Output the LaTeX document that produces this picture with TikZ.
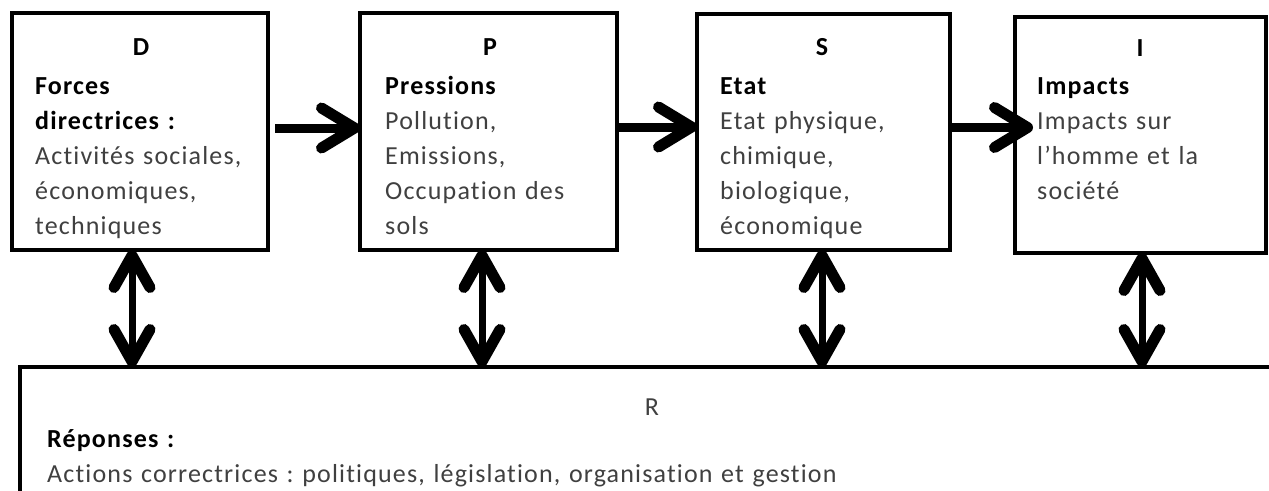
\documentclass[tikz,border=0pt]{standalone}
\usepackage{fontspec}
\setmainfont{Carlito}[LetterSpace=4.5, Ligatures=NoCommon]
\usetikzlibrary{arrows.meta}
\definecolor{txtgray}{HTML}{404040}
\frenchspacing
\tikzset{
  box/.style={draw, line width=4pt, inner sep=0pt, outer sep=0pt, anchor=north west, fill=white},
  ttl/.style={inner sep=0pt, anchor=base, font=\fontsize{26}{35}\selectfont\bfseries},
  body/.style={inner sep=0pt, anchor=base west, align=left, text width=300pt, font=\fontsize{26}{35}\selectfont\frenchspacing, text=txtgray},
  harr/.style={line width=9pt, -{Straight Barb[length=33pt,width=40pt,line width=11pt,round]}},
  varr/.style={line width=7pt, {Straight Barb[length=32pt,width=36pt,line width=11pt,round]}-{Straight Barb[length=32pt,width=36pt,line width=11pt,round]}}
}
\newcommand{\bk}[1]{{\color{black}\bfseries #1}}
\begin{document}
\begin{tikzpicture}[x=1pt,y=-1pt]
\useasboundingbox (0,0) rectangle (1269,490);
\clip (0,0) rectangle (1269,490);
% boxes
\node[box, minimum width=256pt, minimum height=237pt] (D) at (12,13) {};
\node[box, minimum width=257pt, minimum height=237pt] (P) at (360,13) {};
\node[box, minimum width=253pt, minimum height=236pt] (S) at (697,14) {};
\node[box, minimum width=251pt, minimum height=236pt] (I) at (1015,17) {};
\node[box, minimum width=1264pt, minimum height=153pt] (R) at (20,367) {};
% titles
\node[ttl] (Dt) at (141,55) {D};
\node[ttl] (Pt) at (490,55) {P};
\node[ttl] (St) at (822,55) {S};
\node[ttl] (It) at (1140,56) {I};
% body texts
\node[body] (Db) at (35,94) {\bk{Forces}\\\bk{directrices :}\\Activités sociales,\\économiques,\\techniques};
\node[body] (Pb) at (385,94) {\bk{Pressions}\\Pollution,\\Emissions,\\Occupation des\\sols};
\node[body] (Sb) at (720,94) {\bk{Etat}\\Etat physique,\\chimique,\\biologique,\\économique};
\node[body] (Ib) at (1037,94) {\bk{Impacts}\\Impacts sur\\l’homme et la\\société};
\node[body, anchor=base] (Rt) at (652,415) {\hfil R\hfil};
\node[body, text width=1000pt] (Rb) at (47,447) {\bk{Réponses :}\\Actions correctrices : politiques, législation, organisation et gestion};
% horizontal arrows
\coordinate (a1) at ([xshift=7pt,yshift=3.5pt]D.east);
\coordinate (a2) at ([yshift=4.5pt]P.east);
\coordinate (a3) at ([yshift=4.5pt]S.east);
\coordinate (a3e) at ([xshift=18pt]a3 -| I.west);
\draw[harr] (a1) -- (a1 -| P.west);
\draw[harr] (a2) -- (a2 -| S.west);
\draw[harr] (a3) -- (a3e);
% vertical double arrows
\coordinate (v1) at ([xshift=-8pt]D.south);
\coordinate (v2) at ([xshift=-6.5pt]P.south);
\coordinate (v3) at ([xshift=-1.5pt]S.south);
\coordinate (v4) at ([xshift=1.5pt]I.south);
\draw[varr] (v1) -- (v1 |- R.north);
\draw[varr] (v2) -- (v2 |- R.north);
\draw[varr] (v3) -- (v3 |- R.north);
\draw[varr] (v4) -- (v4 |- R.north);
\end{tikzpicture}
\end{document}
